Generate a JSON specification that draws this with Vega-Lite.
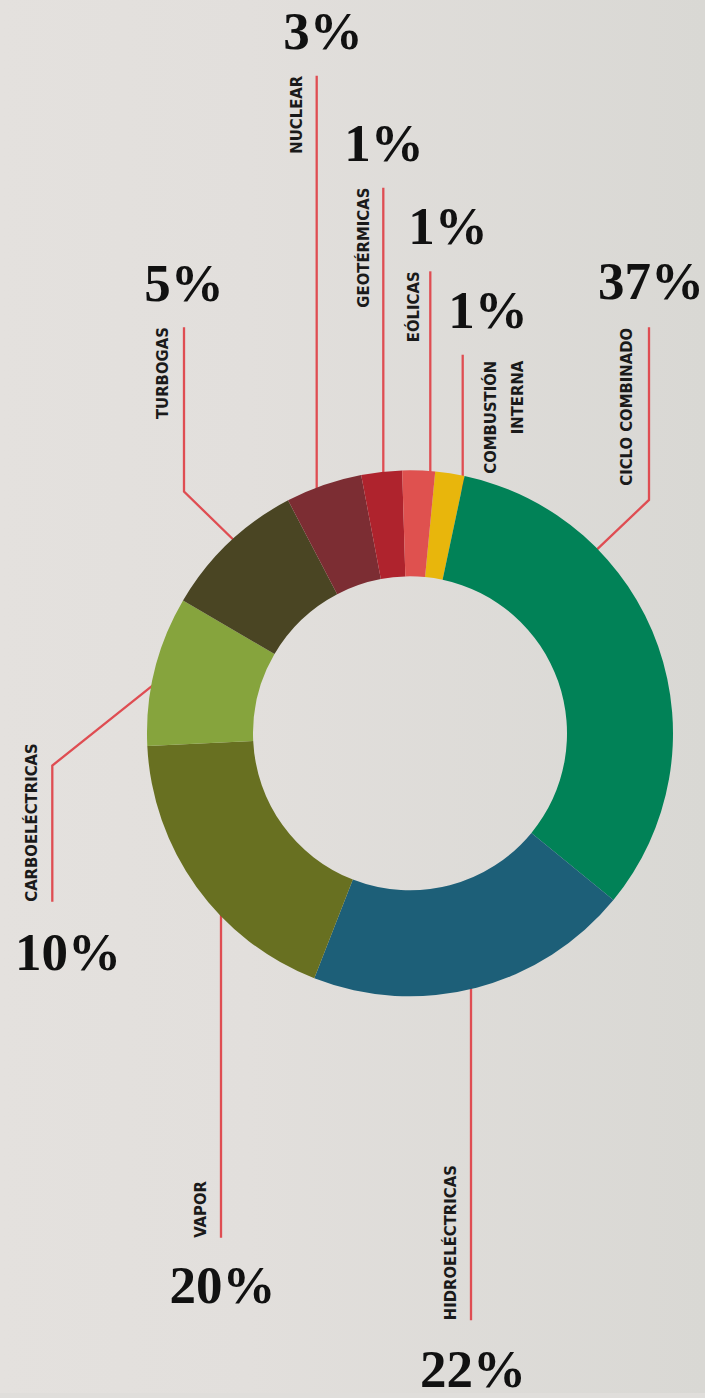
{
  "$schema": "https://vega.github.io/schema/vega-lite/v6.json",
  "width": 705,
  "height": 1398,
  "autosize": {"type": "fit", "contains": "padding"},
  "padding": 0,
  "background": "#e0dedb",
  "config": {"view": {"stroke": null}},
  "datasets": {
    "fondo": [{"nombre": "fondo"}],
    "fuentes": [
      {"fuente": "Combustión interna", "orden": 1, "valor": 1.8},
      {"fuente": "Ciclo combinado", "orden": 2, "valor": 32.6},
      {"fuente": "Hidroeléctricas", "orden": 3, "valor": 20.0},
      {"fuente": "Vapor", "orden": 4, "valor": 18.3},
      {"fuente": "Carboeléctricas", "orden": 5, "valor": 9.2},
      {"fuente": "Turbogas", "orden": 6, "valor": 8.9},
      {"fuente": "Nuclear", "orden": 7, "valor": 4.7},
      {"fuente": "Geotérmicas", "orden": 8, "valor": 2.5},
      {"fuente": "Eólicas", "orden": 9, "valor": 2.0}
    ],
    "lineas": [
      {"fuente": "Nuclear", "punto": 1, "x": -93.3, "y": 660},
      {"fuente": "Nuclear", "punto": 2, "x": -93.3, "y": 230},
      {"fuente": "Geotérmicas", "punto": 1, "x": -26.7, "y": 547.7},
      {"fuente": "Geotérmicas", "punto": 2, "x": -26.7, "y": 240},
      {"fuente": "Eólicas", "punto": 1, "x": 20.3, "y": 463.7},
      {"fuente": "Eólicas", "punto": 2, "x": 20.3, "y": 240},
      {"fuente": "Combustión interna", "punto": 1, "x": 52.7, "y": 380},
      {"fuente": "Combustión interna", "punto": 2, "x": 52.7, "y": 235},
      {"fuente": "Ciclo combinado", "punto": 1, "x": 239, "y": 407.7},
      {"fuente": "Ciclo combinado", "punto": 2, "x": 239, "y": 234.3},
      {"fuente": "Ciclo combinado", "punto": 3, "x": 171, "y": 169.3},
      {"fuente": "Turbogas", "punto": 1, "x": -226, "y": 407.7},
      {"fuente": "Turbogas", "punto": 2, "x": -226, "y": 242.7},
      {"fuente": "Turbogas", "punto": 3, "x": -164, "y": 182},
      {"fuente": "Carboeléctricas", "punto": 1, "x": -357.7, "y": -169},
      {"fuente": "Carboeléctricas", "punto": 2, "x": -357.7, "y": -32.3},
      {"fuente": "Carboeléctricas", "punto": 3, "x": -245.3, "y": 57.7},
      {"fuente": "Vapor", "punto": 1, "x": -189, "y": -506.3},
      {"fuente": "Vapor", "punto": 2, "x": -189, "y": -170},
      {"fuente": "Hidroeléctricas", "punto": 1, "x": 61, "y": -589},
      {"fuente": "Hidroeléctricas", "punto": 2, "x": 61, "y": -245}
    ],
    "etiquetas": [
      {"fuente": "Nuclear", "nombre": "NUCLEAR", "pct": "3%", "lado": "arriba", "nx": -108, "ny": 660, "px": -87, "py": 686.7},
      {"fuente": "Geotérmicas", "nombre": "GEOTÉRMICAS", "pct": "1%", "lado": "arriba", "nx": -41.5, "ny": 547.7, "px": -26, "py": 574.3},
      {"fuente": "Eólicas", "nombre": "EÓLICAS", "pct": "1%", "lado": "arriba", "nx": 9, "ny": 463.7, "px": 38, "py": 491},
      {"fuente": "Combustión interna", "nombre": ["COMBUSTIÓN", "INTERNA"], "pct": "1%", "lado": "arriba", "nx": 86, "ny": 374, "px": 78, "py": 406.7},
      {"fuente": "Ciclo combinado", "nombre": "CICLO COMBINADO", "pct": "37%", "lado": "arriba", "nx": 222, "ny": 407, "px": 241, "py": 436},
      {"fuente": "Turbogas", "nombre": "TURBOGAS", "pct": "5%", "lado": "arriba", "nx": -242, "ny": 407.7, "px": -226, "py": 434.3},
      {"fuente": "Carboeléctricas", "nombre": "CARBOELÉCTRICAS", "pct": "10%", "lado": "abajo", "nx": -373, "ny": -169, "px": -342, "py": -237.3},
      {"fuente": "Vapor", "nombre": "VAPOR", "pct": "20%", "lado": "abajo", "nx": -204.5, "ny": -506.3, "px": -187.5, "py": -572},
      {"fuente": "Hidroeléctricas", "nombre": "HIDROELÉCTRICAS", "pct": "22%", "lado": "abajo", "nx": 45.5, "ny": -589, "px": 63, "py": -655.7}
    ]
  },
  "layer": [
    {
      "data": {"name": "fondo"},
      "mark": {
        "type": "rect",
        "color": {
          "gradient": "linear", "x1": 0, "x2": 1, "y1": 0, "y2": 0,
          "stops": [
            {"offset": 0, "color": "#e4e1de"},
            {"offset": 0.35, "color": "#e2dfdc"},
            {"offset": 1, "color": "#d9d8d4"}
          ]
        }
      },
      "encoding": {
        "x": {"datum": -410, "type": "quantitative", "scale": {"domain": [-410, 295], "nice": false, "zero": false}, "axis": null},
        "x2": {"datum": 295},
        "y": {"datum": -662, "type": "quantitative", "scale": {"domain": [-662, 736], "nice": false, "zero": false}, "axis": null},
        "y2": {"datum": 736}
      }
    },
    {
      "data": {"name": "lineas"},
      "mark": {"type": "line", "color": "#df4d52", "strokeWidth": 2.3, "strokeJoin": "miter", "strokeCap": "butt"},
      "encoding": {
        "x": {"field": "x", "type": "quantitative", "scale": {"domain": [-410, 295], "nice": false, "zero": false}, "axis": null},
        "y": {"field": "y", "type": "quantitative", "scale": {"domain": [-662, 736], "nice": false, "zero": false}, "axis": null},
        "detail": {"field": "fuente", "type": "nominal"},
        "order": {"field": "punto", "type": "quantitative"}
      }
    },
    {
      "data": {"name": "fuentes"},
      "mark": {"type": "arc", "outerRadius": 263, "innerRadius": 157},
      "encoding": {
        "x": {"datum": 0, "type": "quantitative", "scale": {"domain": [-410, 295], "nice": false, "zero": false}, "axis": null},
        "y": {"datum": 0, "type": "quantitative", "scale": {"domain": [-662, 736], "nice": false, "zero": false}, "axis": null},
        "theta": {"field": "valor", "type": "quantitative", "stack": true, "scale": {"range": [0.09599, 6.37918]}},
        "color": {
          "field": "fuente", "type": "nominal", "legend": null,
          "scale": {
            "domain": ["Combustión interna", "Ciclo combinado", "Hidroeléctricas", "Vapor", "Carboeléctricas", "Turbogas", "Nuclear", "Geotérmicas", "Eólicas"],
            "range": ["#e8b60c", "#018257", "#1d5f78", "#687021", "#86a43d", "#4a4523", "#7c2d33", "#af232d", "#df514f"]
          }
        },
        "order": {"field": "orden", "type": "quantitative"}
      }
    },
    {
      "data": {"name": "etiquetas"},
      "transform": [{"filter": "datum.lado === 'arriba'"}],
      "mark": {"type": "text", "angle": 270, "align": "right", "baseline": "alphabetic", "font": "Liberation Sans Narrow, DejaVu Sans Condensed, Roboto", "fontWeight": "bold", "fontSize": 16.5, "lineHeight": 27, "color": "#1a1a1a"},
      "encoding": {
        "x": {"field": "nx", "type": "quantitative", "scale": {"domain": [-410, 295], "nice": false, "zero": false}, "axis": null},
        "y": {"field": "ny", "type": "quantitative", "scale": {"domain": [-662, 736], "nice": false, "zero": false}, "axis": null},
        "text": {"field": "nombre"}
      }
    },
    {
      "data": {"name": "etiquetas"},
      "transform": [{"filter": "datum.lado === 'abajo'"}],
      "mark": {"type": "text", "angle": 270, "align": "left", "baseline": "alphabetic", "font": "Liberation Sans Narrow, DejaVu Sans Condensed, Roboto", "fontWeight": "bold", "fontSize": 16.5, "color": "#1a1a1a"},
      "encoding": {
        "x": {"field": "nx", "type": "quantitative", "scale": {"domain": [-410, 295], "nice": false, "zero": false}, "axis": null},
        "y": {"field": "ny", "type": "quantitative", "scale": {"domain": [-662, 736], "nice": false, "zero": false}, "axis": null},
        "text": {"field": "nombre"}
      }
    },
    {
      "data": {"name": "etiquetas"},
      "mark": {"type": "text", "align": "center", "baseline": "alphabetic", "font": "Liberation Serif", "fontWeight": "bold", "fontSize": 53, "color": "#111111"},
      "encoding": {
        "x": {"field": "px", "type": "quantitative", "scale": {"domain": [-410, 295], "nice": false, "zero": false}, "axis": null},
        "y": {"field": "py", "type": "quantitative", "scale": {"domain": [-662, 736], "nice": false, "zero": false}, "axis": null},
        "text": {"field": "pct"}
      }
    }
  ]
}
